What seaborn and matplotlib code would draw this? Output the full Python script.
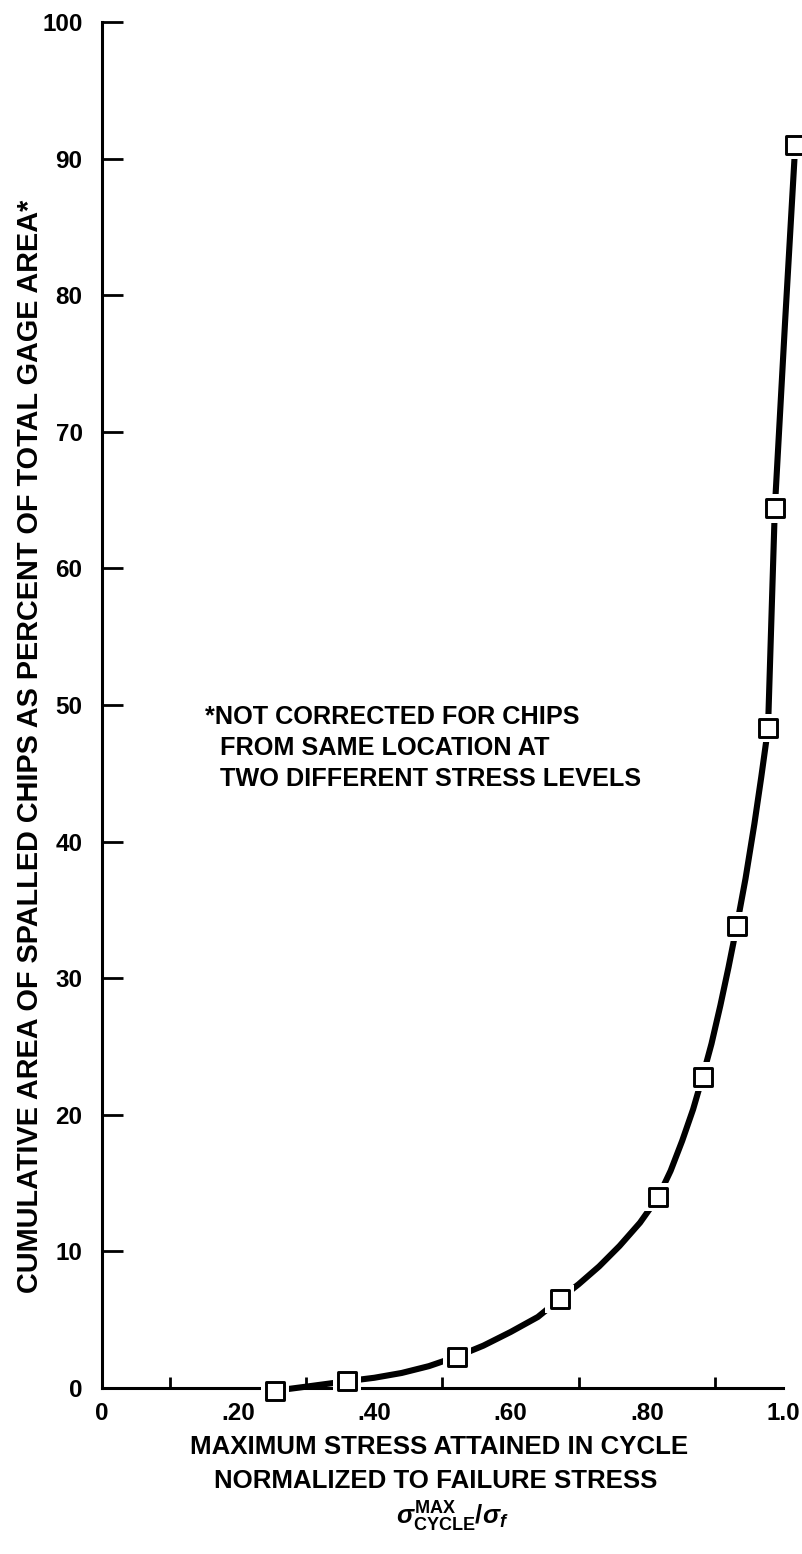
import matplotlib
matplotlib.use("Agg")
import matplotlib.pyplot as plt
from matplotlib import font_manager
import seaborn as sns
import pandas as pd

# Measured points: normalized max cycle stress vs cumulative spalled area (%)
stress_ratio = [0.254, 0.360, 0.521, 0.672, 0.817, 0.882, 0.932, 0.978, 0.988, 1.018]
spalled_pct = [-0.2, 0.5, 2.3, 6.5, 14.0, 22.8, 33.8, 48.3, 64.4, 91.0]

# Hand-faired trend curve through the data
curve_x = [0.254, 0.300, 0.360, 0.400, 0.440, 0.480, 0.521, 0.560, 0.600,
           0.640, 0.672, 0.700, 0.730, 0.760, 0.790, 0.817, 0.835, 0.852,
           0.868, 0.882, 0.895, 0.908, 0.920, 0.932, 0.945, 0.958, 0.968,
           0.978, 0.988, 1.003, 1.018]
curve_y = [-0.2, 0.1, 0.5, 0.75, 1.1, 1.6, 2.3, 3.1, 4.1,
           5.2, 6.5, 7.6, 8.9, 10.4, 12.1, 14.0, 15.9, 18.1,
           20.4, 22.8, 25.2, 28.0, 30.8, 33.8, 37.3, 41.3, 44.7,
           48.3, 64.4, 78.0, 91.0]

x_ticks = [0, 0.2, 0.4, 0.6, 0.8, 1.0]
x_tick_labels = ["0", ".20", ".40", ".60", ".80", "1.0"]
x_minor = [0.1, 0.3, 0.5, 0.7, 0.9]
y_ticks = [0, 10, 20, 30, 40, 50, 60, 70, 80, 90, 100]

sns.set_theme(style="white")
names = {f.name for f in font_manager.fontManager.ttflist}
narrow = "Liberation Sans Narrow" if "Liberation Sans Narrow" in names else "Liberation Sans"
plt.rcParams["font.family"] = [narrow, "DejaVu Sans"]
plt.rcParams["font.weight"] = "bold"
plt.rcParams["mathtext.fontset"] = "custom"
plt.rcParams["mathtext.rm"] = narrow
plt.rcParams["mathtext.it"] = narrow + ":italic"
plt.rcParams["mathtext.bf"] = narrow + ":bold"

W, H = 803, 1554
fig = plt.figure(figsize=(W / 100, H / 100), dpi=100)
fig.patch.set_facecolor("white")
ax = fig.add_axes([102 / W, 166 / H, 681 / W, 1366 / H])
ax.set_facecolor("white")

curve = pd.DataFrame({"x": curve_x, "y": curve_y})
pts = pd.DataFrame({"x": stress_ratio, "y": spalled_pct})

sns.lineplot(data=curve, x="x", y="y", sort=False, estimator=None, ax=ax,
             color="black", linewidth=4.4, solid_capstyle="butt",
             solid_joinstyle="round", zorder=2)
# white halo leaves a small gap in the curve around each symbol
sns.scatterplot(data=pts, x="x", y="y", ax=ax, marker="s", s=420,
                color="white", edgecolor="none", linewidth=0, zorder=3)
sns.scatterplot(data=pts, x="x", y="y", ax=ax, marker="s", s=150,
                facecolor="white", edgecolor="black", linewidth=2.1, zorder=4)
for c in ax.collections:
    c.set_clip_on(False)
for l in ax.lines:
    l.set_clip_on(False)

ax.set_xlim(0, 1.0)
ax.set_ylim(0, 100)
for side in ("top", "right"):
    ax.spines[side].set_visible(False)
for side in ("left", "bottom"):
    ax.spines[side].set_color("black")
    ax.spines[side].set_linewidth(2.2)

ax.set_xticks(x_ticks)
ax.set_xticklabels(x_tick_labels)
ax.set_xticks(x_minor, minor=True)
ax.set_yticks(y_ticks)
ax.set_yticklabels([str(v) for v in y_ticks])
ax.tick_params(axis="x", which="major", direction="in", length=14, width=2,
               color="black", pad=10, labelsize=17.5)
ax.tick_params(axis="x", which="minor", direction="in", length=8, width=2,
               color="black", bottom=True)
ax.tick_params(axis="y", direction="in", length=15, width=2, color="black",
               pad=14, labelsize=17.5, left=True)
for lab in ax.get_xticklabels() + ax.get_yticklabels():
    lab.set_fontweight("bold")
    lab.set_color("black")
ax.set_xlabel("")
ax.set_ylabel("")

# Axis titles
fig.text(30 / W, 1 - 746 / H,
         "CUMULATIVE AREA OF SPALLED CHIPS AS PERCENT OF TOTAL GAGE AREA*",
         rotation=90, ha="center", va="center", fontsize=20.8,
         fontweight="bold", color="black")
fig.text(439 / W, 1 - 1447 / H, "MAXIMUM STRESS ATTAINED IN CYCLE",
         ha="center", va="center", fontsize=18.6, fontweight="bold", color="black")
fig.text(436 / W, 1 - 1481 / H, "NORMALIZED TO FAILURE STRESS",
         ha="center", va="center", fontsize=18.6, fontweight="bold", color="black")
fig.text(452 / W, 1 - 1517 / H,
         r"$\sigma^{\mathbf{MAX}}_{\mathbf{CYCLE}}/\sigma_{f}$",
         ha="center", va="center", fontsize=18.5, color="black")

# Footnote
note_lines = ["*NOT CORRECTED FOR CHIPS", "FROM SAME LOCATION AT",
              "TWO DIFFERENT STRESS LEVELS"]
note_x = [205, 220, 220]
note_y = [717, 748, 779]
for txt, px, py in zip(note_lines, note_x, note_y):
    fig.text(px / W, 1 - py / H, txt, ha="left", va="center", fontsize=18.2,
             fontweight="bold", color="black")

fig.savefig("out.png", dpi=100, facecolor="white")
